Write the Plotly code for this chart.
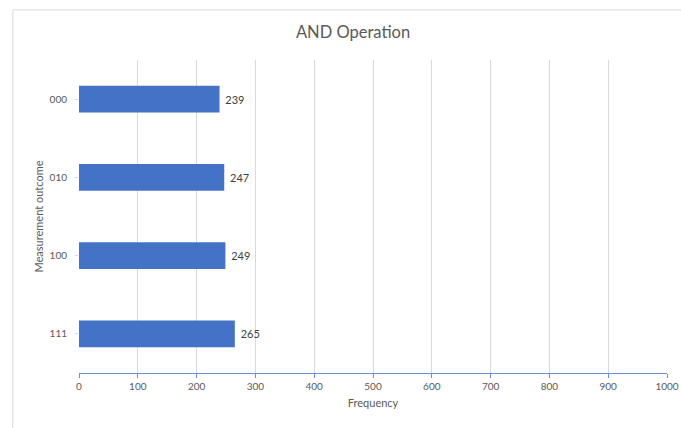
import plotly.graph_objects as go

categories = ["000", "010", "100", "111"]
frequencies = [239, 247, 249, 265]
x_ticks = list(range(0, 1001, 100))

FONT = "Lato"
TXT = "#595959"

fig = go.Figure()
fig.add_trace(go.Bar(
    y=categories, x=frequencies, orientation="h",
    marker=dict(color="#4472C4", line=dict(color="#4472C4", width=0)),
    width=0.345, hoverinfo="x+y", showlegend=False,
    text=[str(v) for v in frequencies], texttemplate="&nbsp;%{text}",
    textposition="outside", cliponaxis=False,
    outsidetextfont=dict(family=FONT, size=11, color="#404040"),
))

# y-axis title
fig.add_annotation(xref="paper", yref="paper", x=-0.0697, y=0.5, text="Measurement outcome",
                   textangle=-90, showarrow=False, xanchor="center", yanchor="middle",
                   font=dict(family=FONT, size=11, color=TXT))

# chart frame (Excel chart area border)
fig.add_shape(type="rect", xref="paper", yref="paper", x0=-0.1125, x1=1.06, y0=-0.25, y1=1.16,
              line=dict(color="#D9D9D9", width=1), fillcolor="rgba(0,0,0,0)", layer="below")

fig.update_layout(
    width=681, height=428,
    margin=dict(l=79, r=14, t=60, b=55),
    paper_bgcolor="white", plot_bgcolor="white",
    title=dict(text="AND Operation", x=353/681, xref="container", xanchor="center",
               y=1 - 32/428, yref="container", yanchor="middle",
               font=dict(family=FONT, size=16.5, color=TXT)),
    font=dict(family=FONT, color=TXT),
    bargap=0.655,
    xaxis=dict(range=[0, 1000], tickvals=x_ticks, ticktext=[str(t) for t in x_ticks],
               showgrid=True, gridcolor="#D9D9D9", gridwidth=1,
               showline=True, linecolor="#6B8FD4", linewidth=1.3,
               ticks="outside", ticklen=4, tickcolor="#6B8FD4",
               tickfont=dict(family=FONT, size=10, color=TXT),
               title=dict(text="Frequency", standoff=8, font=dict(family=FONT, size=11, color=TXT)),
               zeroline=False, fixedrange=True, automargin=False),
    yaxis=dict(type="category", categoryorder="array", categoryarray=categories,
               range=[3.5, -0.5],
               showgrid=False, showline=False, zeroline=False,
               ticks="outside", ticklen=3, tickcolor="#D9D9D9",
               tickfont=dict(family=FONT, size=10, color=TXT), ticklabelstandoff=6,
               fixedrange=True, automargin=False),
)

fig.write_html("out.html", config={"displayModeBar": False},
               post_script="document.body.style.margin='0';")
